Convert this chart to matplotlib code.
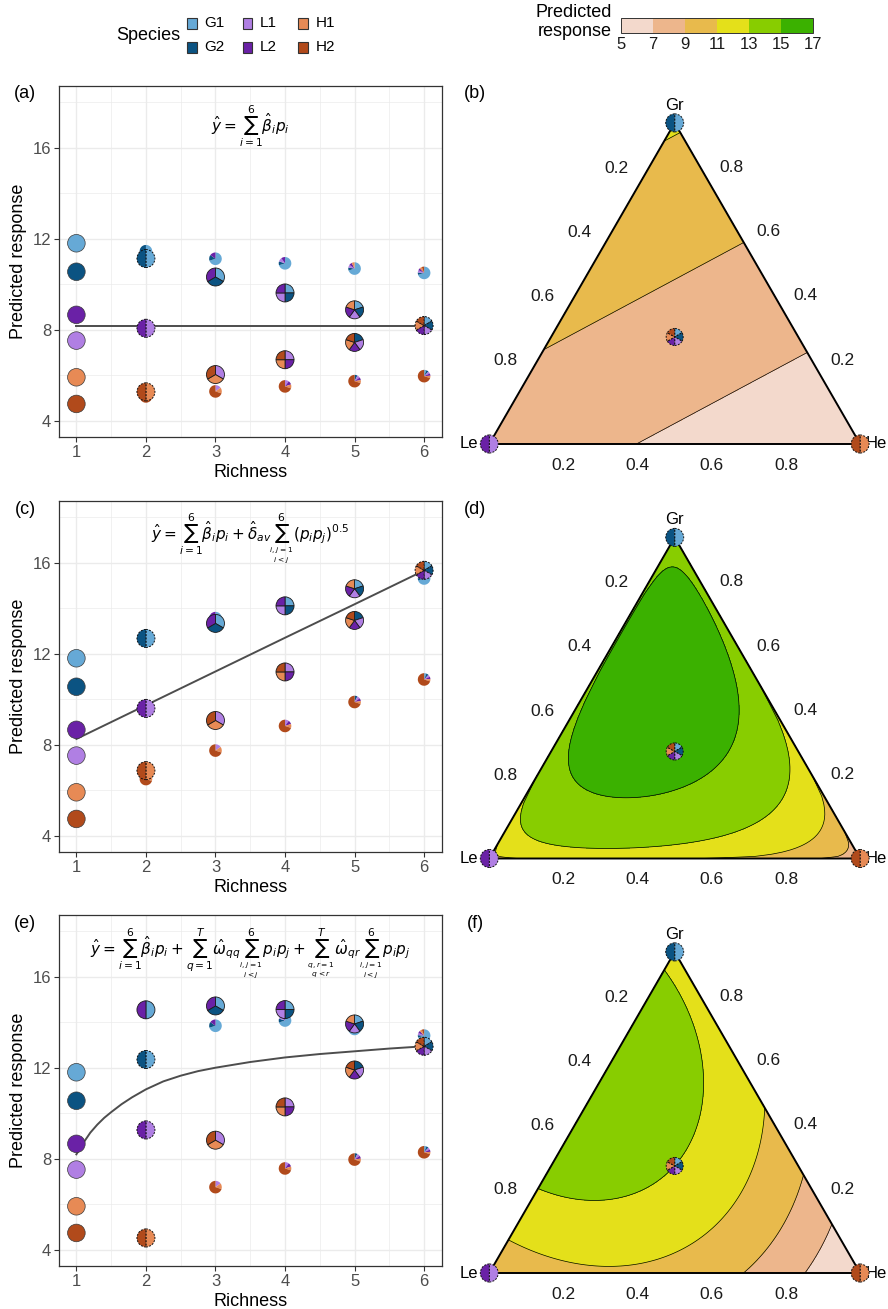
import numpy as np
import matplotlib
matplotlib.use('Agg')
import matplotlib.pyplot as plt
import matplotlib.tri as mtri
import matplotlib as mpl
from matplotlib.patches import Wedge, Circle, Rectangle
from matplotlib.transforms import Affine2D, ScaledTranslation
from matplotlib.colors import ListedColormap, BoundaryNorm

plt.rcParams['font.family'] = ['Liberation Sans', 'DejaVu Sans']

# ---- data ----
species = ['G1', 'G2', 'L1', 'L2', 'H1', 'H2']
sp_cols = ['#66A9D6', '#0B5382', '#B07FE3', '#6A21A6', '#E78A55', '#B14A1B']
group_of = [0, 0, 1, 1, 2, 2]
resp_levels = [5, 7, 9, 11, 13, 15, 17]
resp_cols = ['#F3D9CC', '#EDB68C', '#E8BA4C', '#E4E01A', '#88CD00', '#3BB100']

# species estimates and interaction estimates (used for the ternary surfaces)
beta = [11.8, 10.55, 7.53, 8.66, 5.92, 4.75]
delta_av = 3.0
omega = [[4.84, 17.3, 10.1],     # G, L, H
         [17.3, 4.84, 14.1],
         [10.1, 14.1, -3.08]]

# community compositions (proportions of G1, G2, L1, L2, H1, H2)
comp = {
    'G1': [1, 0, 0, 0, 0, 0], 'G2': [0, 1, 0, 0, 0, 0], 'L1': [0, 0, 1, 0, 0, 0],
    'L2': [0, 0, 0, 1, 0, 0], 'H1': [0, 0, 0, 0, 1, 0], 'H2': [0, 0, 0, 0, 0, 1],
    'G1G2': [.5, .5, 0, 0, 0, 0], 'L1L2': [0, 0, .5, .5, 0, 0], 'H1H2': [0, 0, 0, 0, .5, .5],
    'G1L2': [.5, 0, 0, .5, 0, 0],
    'G1dom2': [.7, .3, 0, 0, 0, 0], 'H2dom2': [0, 0, 0, 0, .3, .7],
    'G1G2L2': [1/3, 1/3, 0, 1/3, 0, 0], 'L1H1H2': [0, 0, 1/3, 0, 1/3, 1/3],
    'G1dom3': [.7, .15, 0, .15, 0, 0], 'H2dom3': [0, 0, .15, 0, .15, .7],
    'G1G2L1L2': [.25, .25, .25, .25, 0, 0], 'L1L2H1H2': [0, 0, .25, .25, .25, .25],
    'G1dom4': [.7, .1, .1, .1, 0, 0], 'H2dom4': [0, 0, .1, .1, .1, .7],
    'G1G2L1L2H1': [.2, .2, .2, .2, .2, 0], 'G2L1L2H1H2': [0, .2, .2, .2, .2, .2],
    'G1dom5': [.7, .075, .075, .075, .075, 0], 'H2dom5': [0, .075, .075, .075, .075, .7],
    'all6': [1/6] * 6,
    'G1dom6': [.7, .06, .06, .06, .06, .06], 'H2dom6': [.06, .06, .06, .06, .06, .7],
}

mono_y = [11.8, 10.55, 7.53, 8.66, 5.92, 4.75]

# (community, richness, predicted response, glyph type)
pts_a = [('G1dom2', 2, 11.45, 'dom'), ('H2dom2', 2, 5.08, 'dom'),
         ('G1dom3', 3, 11.12, 'dom'), ('H2dom3', 3, 5.30, 'dom'),
         ('G1dom4', 4, 10.92, 'dom'), ('H2dom4', 4, 5.52, 'dom'),
         ('G1dom5', 5, 10.69, 'dom'), ('H2dom5', 5, 5.75, 'dom'),
         ('G1dom6', 6, 10.50, 'dom'), ('H2dom6', 6, 5.97, 'dom'),
         ('G1G2L2', 3, 10.32, 'eq'), ('L1H1H2', 3, 6.04, 'eq'),
         ('G1G2L1L2', 4, 9.62, 'eq'), ('L1L2H1H2', 4, 6.69, 'eq'),
         ('G1G2L1L2H1', 5, 8.88, 'eq'), ('G2L1L2H1H2', 5, 7.45, 'eq'),
         ('G1G2', 2, 11.13, 'dash'), ('L1L2', 2, 8.07, 'dash'),
         ('H1H2', 2, 5.28, 'dash'), ('all6', 6, 8.19, 'dash')]

pts_c = [('G1dom2', 2, 12.80, 'dom'), ('H2dom2', 2, 6.50, 'dom'),
         ('G1dom3', 3, 13.56, 'dom'), ('H2dom3', 3, 7.75, 'dom'),
         ('G1dom4', 4, 14.20, 'dom'), ('H2dom4', 4, 8.83, 'dom'),
         ('G1dom5', 5, 14.80, 'dom'), ('H2dom5', 5, 9.88, 'dom'),
         ('G1dom6', 6, 15.30, 'dom'), ('H2dom6', 6, 10.87, 'dom'),
         ('G1G2L2', 3, 13.33, 'eq'), ('L1H1H2', 3, 9.07, 'eq'),
         ('G1G2L1L2', 4, 14.10, 'eq'), ('L1L2H1H2', 4, 11.20, 'eq'),
         ('G1G2L1L2H1', 5, 14.85, 'eq'), ('G2L1L2H1H2', 5, 13.46, 'eq'),
         ('G1G2', 2, 12.67, 'dash'), ('L1L2', 2, 9.60, 'dash'),
         ('H1H2', 2, 6.87, 'dash'), ('all6', 6, 15.66, 'dash')]

pts_e = [('G1dom2', 2, 12.44, 'dom'), ('H2dom2', 2, 4.45, 'dom'),
         ('G1dom3', 3, 13.84, 'dom'), ('H2dom3', 3, 6.76, 'dom'),
         ('G1dom4', 4, 14.07, 'dom'), ('H2dom4', 4, 7.58, 'dom'),
         ('G1dom5', 5, 13.70, 'dom'), ('H2dom5', 5, 7.97, 'dom'),
         ('G1dom6', 6, 13.41, 'dom'), ('H2dom6', 6, 8.29, 'dom'),
         ('G1L2', 2, 14.54, 'eq'),
         ('G1G2L2', 3, 14.71, 'eq'), ('L1H1H2', 3, 8.82, 'eq'),
         ('G1G2L1L2', 4, 14.55, 'eq'), ('L1L2H1H2', 4, 10.28, 'eq'),
         ('G1G2L1L2H1', 5, 13.92, 'eq'), ('G2L1L2H1H2', 5, 11.90, 'eq'),
         ('G1G2', 2, 12.36, 'dash'), ('L1L2', 2, 9.27, 'dash'),
         ('H1H2', 2, 4.53, 'dash'), ('all6', 6, 12.94, 'dash')]

line_a_x = [1, 2, 3, 4, 5, 6]
line_a_y = [8.19, 8.19, 8.19, 8.19, 8.19, 8.19]
line_c_x = [1, 2, 3, 4, 5, 6]
line_c_y = [8.26, 9.74, 11.22, 12.70, 14.17, 15.65]
line_e_x = [1, 1.05, 1.1, 1.2, 1.3, 1.4, 1.5, 1.65, 1.8, 2, 2.25, 2.5, 2.75, 3,
            3.5, 4, 4.5, 5, 5.5, 6]
line_e_y = [8.2, 8.45, 8.7, 9.15, 9.5, 9.8, 10.05, 10.4, 10.7, 11.05, 11.4, 11.65,
            11.85, 12.0, 12.25, 12.45, 12.6, 12.72, 12.84, 12.94]

eq_a = r'$\hat{y} = \sum_{i=1}^{6}\hat{\beta}_i p_i$'
eq_c = (r'$\hat{y} = \sum_{i=1}^{6}\hat{\beta}_i p_i + \hat{\delta}_{av}'
        r'\sum_{\genfrac{}{}{0}{}{i,j=1}{i<j}}^{6}(p_i p_j)^{0.5}$')
eq_e = (r'$\hat{y} = \sum_{i=1}^{6}\hat{\beta}_i p_i + \sum_{q=1}^{T}\hat{\omega}_{qq}'
        r'\sum_{\genfrac{}{}{0}{}{i,j=1}{i<j}}^{6}p_i p_j + '
        r'\sum_{\genfrac{}{}{0}{}{q,r=1}{q<r}}^{T}\hat{\omega}_{qr}'
        r'\sum_{\genfrac{}{}{0}{}{i,j=1}{i<j}}^{6}p_i p_j$')

W, H = 888, 1309
fig = plt.figure(figsize=(W / 100, H / 100), dpi=100)


def frac(x0, y0, w, h):
    return [x0 / W, 1 - (y0 + h) / H, w / W, h / H]


def pie(ax, x, y, props, r, style, z=3):
    tr = Affine2D().scale(r) + ScaledTranslation(x, y, ax.transData)
    props = np.asarray(props, float)
    nz = np.flatnonzero(props > 1e-9)
    if style == 'dom':
        ec, ls, lw = 'none', '-', 0
    elif style == 'dash':
        ec, ls, lw = '#111111', (0, (2.0, 1.4)), 0.7
    elif style == 'mono':
        ec, ls, lw = '#3a3a3a', '-', 0.5
    else:
        ec, ls, lw = '#1a1a1a', '-', 0.6
    if len(nz) == 1:
        ax.add_patch(Circle((0, 0), 1, fc=sp_cols[nz[0]], ec=ec, lw=lw, ls=ls,
                            transform=tr, zorder=z))
        return
    start = 90.0
    for i in nz:
        ext = props[i] * 360
        ax.add_patch(Wedge((0, 0), 1, start - ext, start, fc=sp_cols[i], ec=ec,
                           lw=lw, ls=ls, transform=tr, zorder=z))
        start -= ext


def left_panel(top, pts, lx, ly, eq, eq_y):
    ax = fig.add_axes(frac(59, top, 382.5, 351))
    ax.set_xlim(0.75, 6.25)
    ax.set_ylim(3.3, 18.7)
    ax.set_xticks(range(1, 7))
    ax.set_xticks([1.5, 2.5, 3.5, 4.5, 5.5], minor=True)
    ax.set_yticks([4, 8, 12, 16])
    ax.set_yticks([6, 10, 14, 18], minor=True)
    ax.grid(which='major', color='#EBEBEB', lw=1.0)
    ax.grid(which='minor', color='#EBEBEB', lw=0.5)
    ax.set_axisbelow(True)
    ax.tick_params(which='major', length=3.5, width=0.8, color='#333333',
                   labelcolor='#4D4D4D', labelsize=12, pad=2)
    ax.tick_params(which='minor', length=0)
    for s in ax.spines.values():
        s.set_color('#333333')
        s.set_linewidth(0.9)
    ax.set_xlabel('Richness', fontsize=13, labelpad=3)
    ax.set_ylabel('Predicted response', fontsize=13, labelpad=4)
    ax.plot(lx, ly, color='#4D4D4D', lw=1.4, zorder=2)
    for k in range(6):
        pie(ax, 1, mono_y[k], comp[species[k]], 8.8, 'mono', z=3)
    order = {'dom': 3, 'eq': 4, 'dash': 5}
    rad = {'dom': 6.3, 'eq': 9.0, 'dash': 9.0}
    for name, rich, yv, kind in pts:
        pie(ax, rich, yv, comp[name], rad[kind], kind, z=order[kind])
    ax.text(0.5, eq_y, eq, transform=ax.transAxes, ha='center', va='center',
            fontsize=11)
    return ax


def tern_surface(kind):
    n = 150
    gg, hh = [], []
    for i in range(n + 1):
        for j in range(n + 1 - i):
            gg.append(i / n)
            hh.append(j / n)
    g = np.array(gg)
    h = np.array(hh)
    l = np.clip(1 - g - h, 0, 1)
    P = np.stack([g / 2, g / 2, l / 2, l / 2, h / 2, h / 2], axis=1)
    z = P @ np.array(beta)
    for i in range(6):
        for j in range(i + 1, 6):
            if kind == 'delta':
                z = z + delta_av * np.sqrt(P[:, i] * P[:, j])
            elif kind == 'omega':
                z = z + omega[group_of[i]][group_of[j]] * P[:, i] * P[:, j]
    x = h + g / 2
    y = g * np.sqrt(3) / 2
    return x, y, z


def tern_panel(top, le_y, kind, hgt=415):
    S = 370.8
    x0, w = 450, 438
    le_x = 489.3
    ax = fig.add_axes(frac(x0, top, w, hgt))
    ax.set_xlim((x0 - le_x) / S, (x0 + w - le_x) / S)
    ax.set_ylim((le_y - (top + hgt)) / S, (le_y - top) / S)
    ax.axis('off')
    x, y, z = tern_surface(kind)
    tri = mtri.Triangulation(x, y)
    ax.tricontourf(tri, z, levels=[-50, 7, 9, 11, 13, 15, 50], colors=resp_cols, zorder=1)
    ax.tricontour(tri, z, levels=[7, 9, 11, 13, 15], colors='black', linewidths=0.5,
                  zorder=2)
    r3 = np.sqrt(3) / 2
    ax.plot([0, 1, 0.5, 0], [0, 0, r3, 0], color='black', lw=1.4, zorder=3,
            solid_joinstyle='miter', clip_on=False)
    tk = [0.2, 0.4, 0.6, 0.8]
    for v in tk:
        ax.text(0.5 - 0.5 * v - 0.057, (1 - v) * r3 + 0.051, f'{v:.1f}', ha='center',
                va='center', fontsize=12.5, color='#1a1a1a')
        ax.text(1 - 0.5 * v + 0.052, v * r3 + 0.053, f'{v:.1f}', ha='center',
                va='center', fontsize=12.5, color='#1a1a1a')
        ax.text(v, -0.057, f'{v:.1f}', ha='center', va='center', fontsize=12.5,
                color='#1a1a1a')
    ax.text(0.5, r3 + 0.048, 'Gr', ha='center', va='center', fontsize=12, clip_on=False)
    ax.text(-0.054, 0, 'Le', ha='center', va='center', fontsize=12, clip_on=False)
    # right-aligned just inside the figure edge, partly tucked under the vertex glyph
    ax.text((886.5 - le_x) / S, 0, 'He', ha='right', va='center', fontsize=12,
            clip_on=False, zorder=4)
    pie(ax, 0.5, r3, comp['G1G2'], 9.0, 'dash', z=5)
    pie(ax, 0, 0, comp['L1L2'], 9.0, 'dash', z=5)
    pie(ax, 1, 0, comp['H1H2'], 9.0, 'dash', z=5)
    pie(ax, 0.5, r3 / 3, comp['all6'], 8.5, 'dash', z=5)
    return ax


left_panel(86, pts_a, line_a_x, line_a_y, eq_a, 0.885)
left_panel(501, pts_c, line_c_x, line_c_y, eq_c, 0.894)
left_panel(915, pts_e, line_e_x, line_e_y, eq_e, 0.891)

tern_panel(80, 444.0, 'linear')
tern_panel(495, 858.5, 'delta')
tern_panel(910, 1273.0, 'omega', hgt=399)

# overlay in pixel units for legend and panel tags
ov = fig.add_axes([0, 0, 1, 1])
ov.set_xlim(0, W)
ov.set_ylim(H, 0)
ov.axis('off')

for tag, (tx, ty) in zip(['(a)', '(b)', '(c)', '(d)', '(e)', '(f)'],
                         [(25, 94), (475, 94), (25, 510), (475, 510), (25, 923), (475, 923)]):
    ov.text(tx, ty, tag, ha='center', va='center', fontsize=13)

ov.text(180, 35, 'Species', ha='right', va='center', fontsize=13)
for k, sp in enumerate(species):
    col, row = k // 2, k % 2
    sx = 187 + col * 55.7
    sy = 23.3 + row * 24
    ov.add_patch(Rectangle((sx, sy - 5.5), 9.5, 11, fc=sp_cols[k], ec='#333333', lw=0.8))
    ov.text(sx + 17, sy, sp, ha='left', va='center', fontsize=11)

cax = fig.add_axes(frac(621, 18.3, 192.3, 15))
cmap = ListedColormap(resp_cols)
norm = BoundaryNorm(resp_levels, cmap.N)
cb = mpl.colorbar.ColorbarBase(cax, cmap=cmap, norm=norm, orientation='horizontal',
                               ticks=resp_levels)
cb.outline.set_linewidth(0.7)
cb.outline.set_edgecolor('#333333')
cax.tick_params(length=0, labelsize=12, pad=3, labelcolor='#1a1a1a')
ov.text(612, 22, 'Predicted\nresponse', ha='right', va='center', multialignment='right',
        fontsize=13, linespacing=1.1)

fig.savefig('out.png', dpi=100)
